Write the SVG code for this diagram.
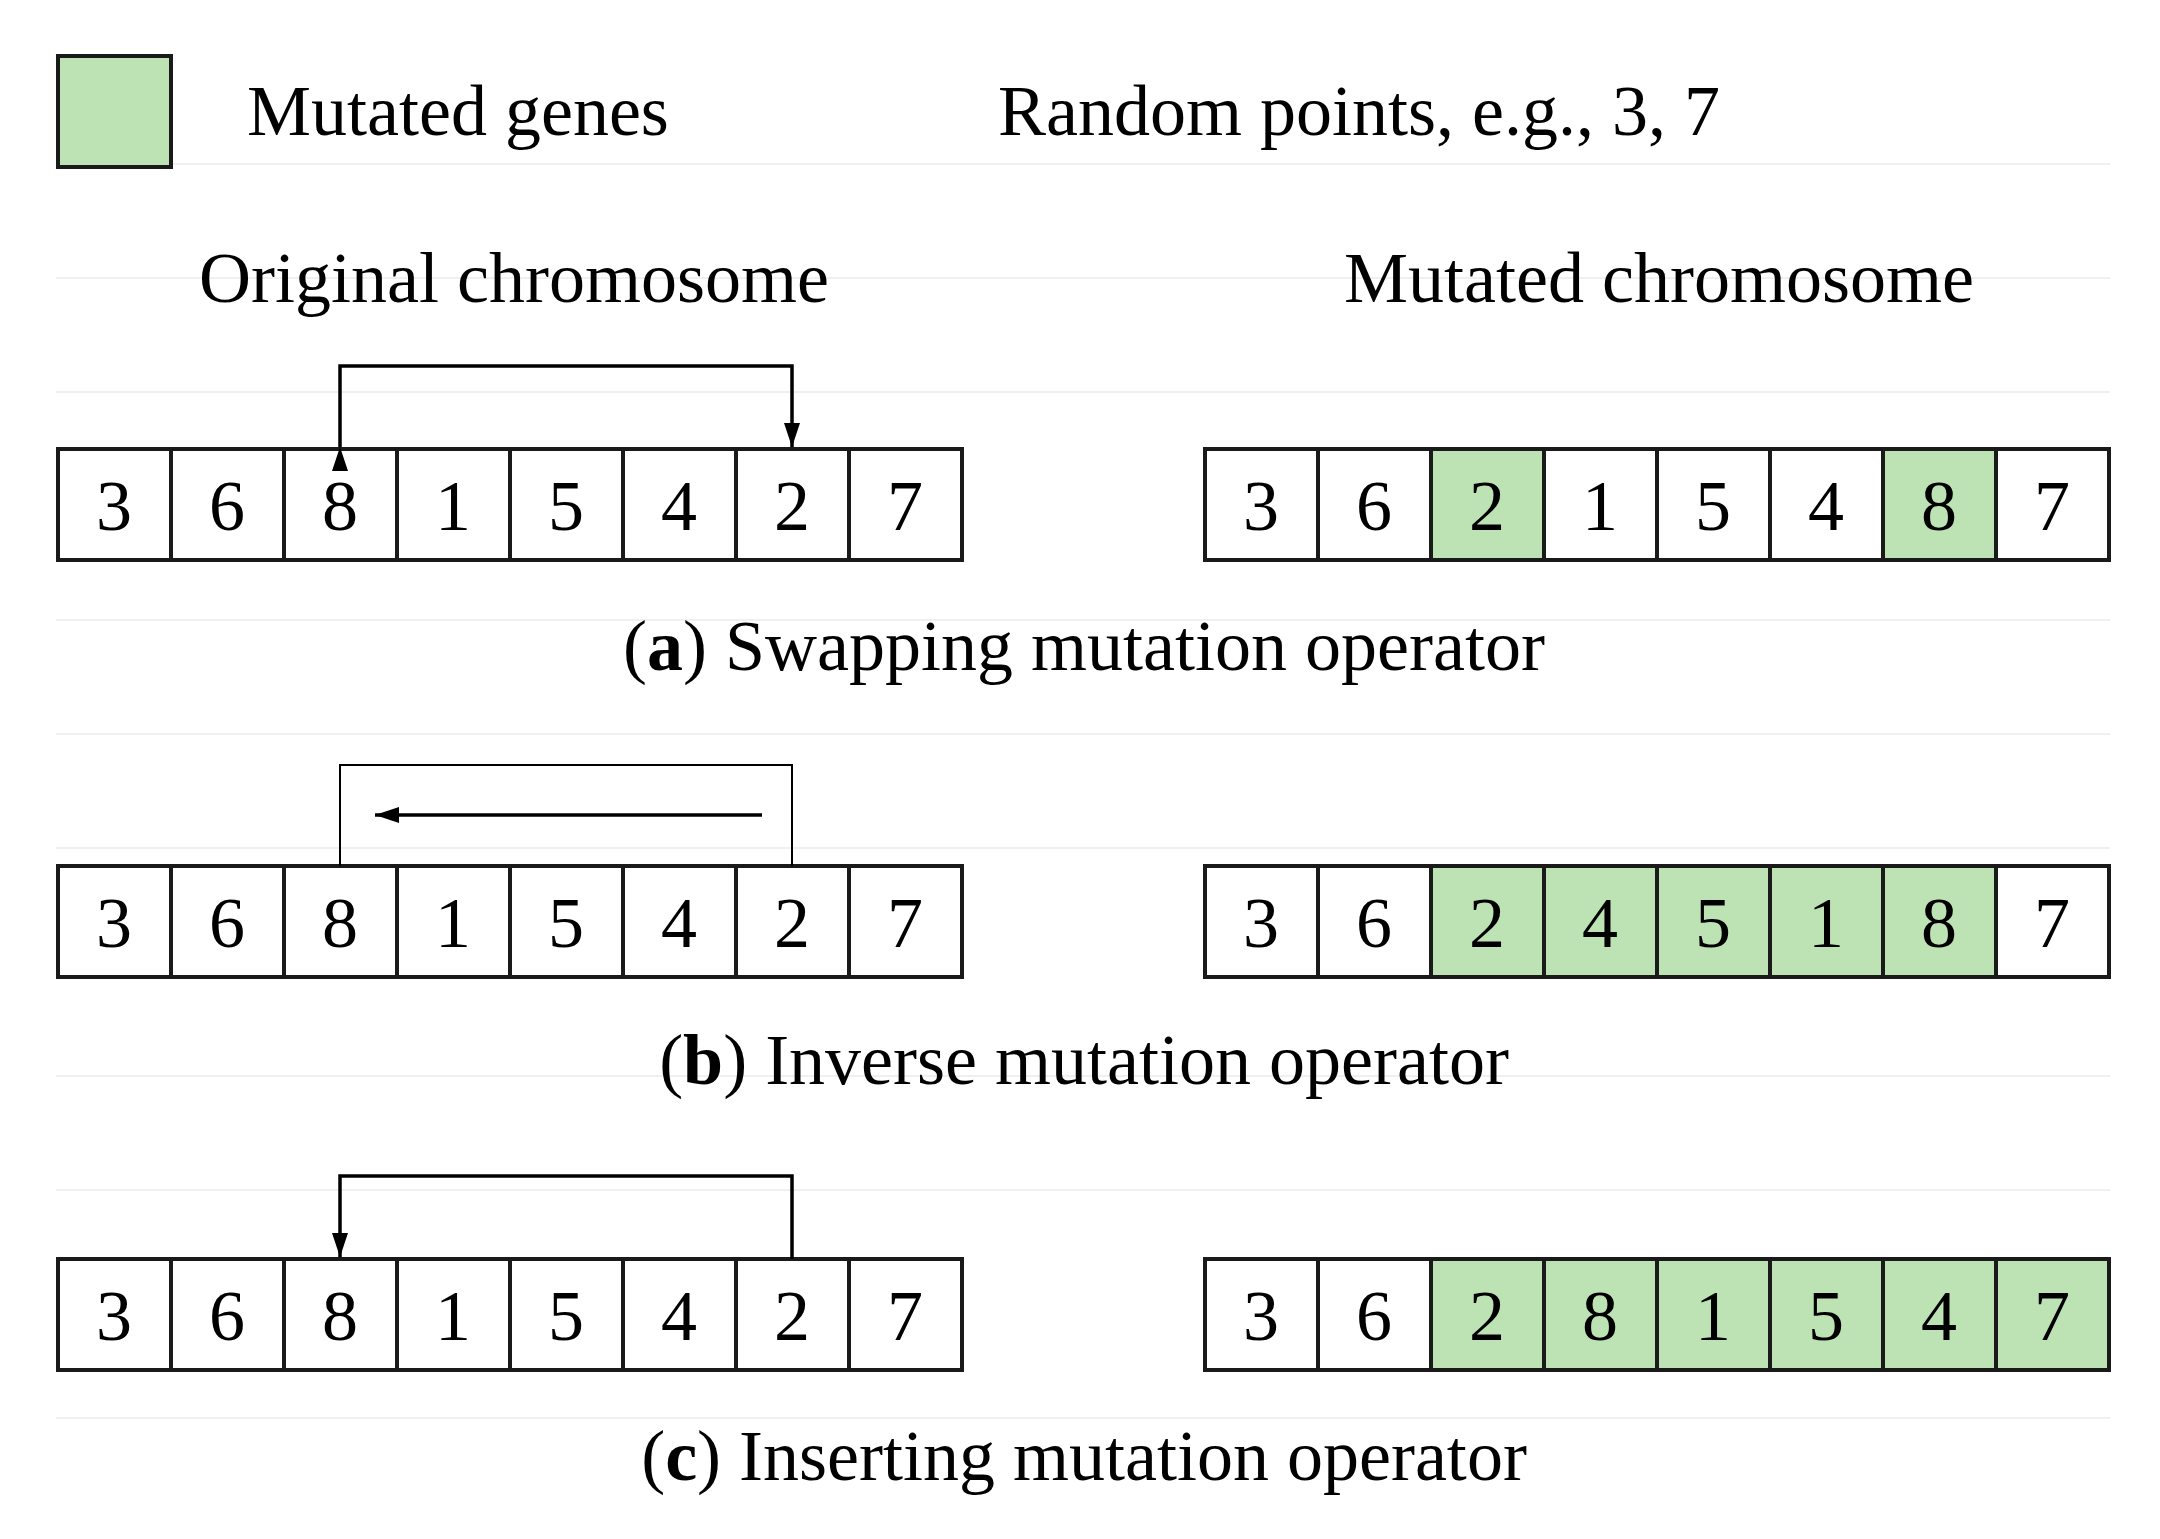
<svg xmlns="http://www.w3.org/2000/svg" width="2160" height="1539" viewBox="0 0 2160 1539">
<style>
text{font-family:"Liberation Serif","Times New Roman",serif;fill:#000}
.t{font-size:72px}
.d{font-size:72px;text-anchor:middle}
.c{fill:#fff;stroke:#1a1a1a;stroke-width:4}
.g{fill:#bde3b5;stroke:#1a1a1a;stroke-width:4}
.ln{fill:none;stroke:#000;stroke-width:3.5}
.th{fill:none;stroke:#000;stroke-width:2}
.f{stroke:#f0f0f0;stroke-width:2}
</style>
<defs>
<marker id="ah" viewBox="0 0 10 10" refX="10" refY="5" markerWidth="6" markerHeight="8" markerUnits="userSpaceOnUse" orient="auto" overflow="visible">
<path d="M0,0 L10,5 L0,10 z" fill="#000" transform="scale(2.4,1.6)"/>
</marker>
<marker id="a2" viewBox="0 0 24 16" refX="24" refY="8" markerWidth="24" markerHeight="16" markerUnits="userSpaceOnUse" orient="auto">
<path d="M0,0 L24,8 L0,16 z" fill="#000"/>
</marker>
</defs>
<rect width="2160" height="1539" fill="#fff"/>
<g id="faint">
<line class="f" x1="56" y1="164" x2="2110" y2="164"/>
<line class="f" x1="56" y1="278" x2="2110" y2="278"/>
<line class="f" x1="56" y1="392" x2="2110" y2="392"/>
<line class="f" x1="56" y1="620" x2="2110" y2="620"/>
<line class="f" x1="56" y1="734" x2="2110" y2="734"/>
<line class="f" x1="56" y1="848" x2="2110" y2="848"/>
<line class="f" x1="56" y1="1076" x2="2110" y2="1076"/>
<line class="f" x1="56" y1="1190" x2="2110" y2="1190"/>
<line class="f" x1="56" y1="1418" x2="2110" y2="1418"/>
</g>
<g id="legend">
<rect x="58" y="56" width="113" height="111" class="g"/>
<text class="t" x="247" y="135">Mutated genes</text>
<text class="t" x="998" y="135">Random points, e.g., 3, 7</text>
</g>
<g id="headers">
<text class="t" x="199" y="302">Original chromosome</text>
<text class="t" x="1344" y="302">Mutated chromosome</text>
</g>
<g id="rowA-orig">
<rect class="c" x="58" y="449" width="113" height="111"/><text class="d" x="114" y="530">3</text>
<rect class="c" x="171" y="449" width="113" height="111"/><text class="d" x="227" y="530">6</text>
<rect class="c" x="284" y="449" width="113" height="111"/><text class="d" x="340" y="530">8</text>
<rect class="c" x="397" y="449" width="113" height="111"/><text class="d" x="453" y="530">1</text>
<rect class="c" x="510" y="449" width="113" height="111"/><text class="d" x="566" y="530">5</text>
<rect class="c" x="623" y="449" width="113" height="111"/><text class="d" x="679" y="530">4</text>
<rect class="c" x="736" y="449" width="113" height="111"/><text class="d" x="792" y="530">2</text>
<rect class="c" x="849" y="449" width="113" height="111"/><text class="d" x="905" y="530">7</text>
</g>
<g id="rowA-mut">
<rect class="c" x="1205" y="449" width="113" height="111"/><text class="d" x="1261" y="530">3</text>
<rect class="c" x="1318" y="449" width="113" height="111"/><text class="d" x="1374" y="530">6</text>
<rect class="g" x="1431" y="449" width="113" height="111"/><text class="d" x="1487" y="530">2</text>
<rect class="c" x="1544" y="449" width="113" height="111"/><text class="d" x="1600" y="530">1</text>
<rect class="c" x="1657" y="449" width="113" height="111"/><text class="d" x="1713" y="530">5</text>
<rect class="c" x="1770" y="449" width="113" height="111"/><text class="d" x="1826" y="530">4</text>
<rect class="g" x="1883" y="449" width="113" height="111"/><text class="d" x="1939" y="530">8</text>
<rect class="c" x="1996" y="449" width="113" height="111"/><text class="d" x="2052" y="530">7</text>
</g>
<text class="t" x="1084" y="670" text-anchor="middle">(<tspan font-weight="bold">a</tspan>) Swapping mutation operator</text>
<g id="rowB-orig">
<rect class="c" x="58" y="866" width="113" height="111"/><text class="d" x="114" y="947">3</text>
<rect class="c" x="171" y="866" width="113" height="111"/><text class="d" x="227" y="947">6</text>
<rect class="c" x="284" y="866" width="113" height="111"/><text class="d" x="340" y="947">8</text>
<rect class="c" x="397" y="866" width="113" height="111"/><text class="d" x="453" y="947">1</text>
<rect class="c" x="510" y="866" width="113" height="111"/><text class="d" x="566" y="947">5</text>
<rect class="c" x="623" y="866" width="113" height="111"/><text class="d" x="679" y="947">4</text>
<rect class="c" x="736" y="866" width="113" height="111"/><text class="d" x="792" y="947">2</text>
<rect class="c" x="849" y="866" width="113" height="111"/><text class="d" x="905" y="947">7</text>
</g>
<g id="rowB-mut">
<rect class="c" x="1205" y="866" width="113" height="111"/><text class="d" x="1261" y="947">3</text>
<rect class="c" x="1318" y="866" width="113" height="111"/><text class="d" x="1374" y="947">6</text>
<rect class="g" x="1431" y="866" width="113" height="111"/><text class="d" x="1487" y="947">2</text>
<rect class="g" x="1544" y="866" width="113" height="111"/><text class="d" x="1600" y="947">4</text>
<rect class="g" x="1657" y="866" width="113" height="111"/><text class="d" x="1713" y="947">5</text>
<rect class="g" x="1770" y="866" width="113" height="111"/><text class="d" x="1826" y="947">1</text>
<rect class="g" x="1883" y="866" width="113" height="111"/><text class="d" x="1939" y="947">8</text>
<rect class="c" x="1996" y="866" width="113" height="111"/><text class="d" x="2052" y="947">7</text>
</g>
<text class="t" x="1084" y="1084" text-anchor="middle">(<tspan font-weight="bold">b</tspan>) Inverse mutation operator</text>
<g id="rowC-orig">
<rect class="c" x="58" y="1259" width="113" height="111"/><text class="d" x="114" y="1340">3</text>
<rect class="c" x="171" y="1259" width="113" height="111"/><text class="d" x="227" y="1340">6</text>
<rect class="c" x="284" y="1259" width="113" height="111"/><text class="d" x="340" y="1340">8</text>
<rect class="c" x="397" y="1259" width="113" height="111"/><text class="d" x="453" y="1340">1</text>
<rect class="c" x="510" y="1259" width="113" height="111"/><text class="d" x="566" y="1340">5</text>
<rect class="c" x="623" y="1259" width="113" height="111"/><text class="d" x="679" y="1340">4</text>
<rect class="c" x="736" y="1259" width="113" height="111"/><text class="d" x="792" y="1340">2</text>
<rect class="c" x="849" y="1259" width="113" height="111"/><text class="d" x="905" y="1340">7</text>
</g>
<g id="rowC-mut">
<rect class="c" x="1205" y="1259" width="113" height="111"/><text class="d" x="1261" y="1340">3</text>
<rect class="c" x="1318" y="1259" width="113" height="111"/><text class="d" x="1374" y="1340">6</text>
<rect class="g" x="1431" y="1259" width="113" height="111"/><text class="d" x="1487" y="1340">2</text>
<rect class="g" x="1544" y="1259" width="113" height="111"/><text class="d" x="1600" y="1340">8</text>
<rect class="g" x="1657" y="1259" width="113" height="111"/><text class="d" x="1713" y="1340">1</text>
<rect class="g" x="1770" y="1259" width="113" height="111"/><text class="d" x="1826" y="1340">5</text>
<rect class="g" x="1883" y="1259" width="113" height="111"/><text class="d" x="1939" y="1340">4</text>
<rect class="g" x="1996" y="1259" width="113" height="111"/><text class="d" x="2052" y="1340">7</text>
</g>
<text class="t" x="1084" y="1480" text-anchor="middle">(<tspan font-weight="bold">c</tspan>) Inserting mutation operator</text>
<g id="connectors">
<path class="ln" d="M340,447 V366 H792 V447" marker-start="url(#a2)" marker-end="url(#a2)"/>
<path class="th" d="M340,866 V765 H792 V866"/>
<path class="ln" d="M762,815 H375" marker-end="url(#a2)"/>
<path class="ln" d="M792,1259 V1176 H340 V1257" marker-end="url(#a2)"/>
</g>
</svg>
